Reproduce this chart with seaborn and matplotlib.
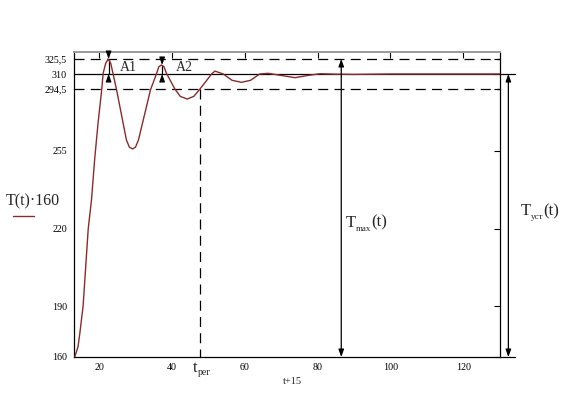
#!/usr/bin/env python3
"""
plot.py - transient response T(t)*160 with overshoot / settling markers
Saves out.png (563x393 px).
"""

import numpy as np
import pandas as pd
import matplotlib
matplotlib.use('Agg')
import matplotlib.pyplot as plt
import matplotlib.transforms as mtransforms
import seaborn as sns
from matplotlib.lines import Line2D


# ── Data ─────────────────────────────────────────────────────────────────────
t_shift = [13.3, 14.2, 14.7, 15.6, 17.0, 17.9, 18.8, 19.7, 20.7, 21.1, 21.8,
           22.5, 23.2, 23.8, 24.8, 26.6, 27.5, 28.3, 29.2, 30.0, 30.8, 31.9,
           34.1, 35.8, 36.4, 37.1, 37.8, 38.5, 40.8, 42.3, 44.2, 46.0, 47.7,
           50.9, 51.8, 54.1, 56.5, 59.1, 61.6, 64.1, 66.4, 70.0, 73.8, 77.3,
           80.7, 85.0, 90.0, 100.0, 110.0, 120.0, 130.0]
temp = [160.0, 166.0, 173.9, 190.0, 220.0, 233.0, 251.7, 272.6, 293.9, 310.7, 321.0,
        325.5, 321.0, 310.7, 293.9, 272.6, 262.0, 257.5, 256.3, 257.5, 262.0, 272.6,
        293.9, 310.7, 317.5, 319.3, 317.5, 310.7, 294.5, 289.8, 288.1, 289.8, 294.5,
        310.0, 313.0, 310.0, 303.5, 301.4, 303.5, 310.0, 310.7, 308.5, 306.2, 308.5,
        310.3, 309.8, 309.6, 310.0, 310.0, 310.0, 310.0]

x_ticks = [20, 40, 60, 80, 100, 120]
y_ticks = [160, 190, 220, 255, 294.5, 310, 325.5]
y_tick_labels = ['160', '190', '220', '255', '294,5', '310', '325,5']

T_START = 160
T_MAX = 325.5       # first peak
T_UST = 310         # steady state
T_BAND = 294.5      # lower edge of the settling band
T_PEAK2 = 319.3     # second peak
t_reg = 47.7        # settling time
t_peak1 = 22.6
t_peak2 = 37.3

# The y axis of the original is not linear: height (px above the bottom edge)
# at which each tick value sits
Y_AXIS_VALUES = [160, 190, 220, 255, 294.5, 310, 325.5, 332.7]
Y_AXIS_PX = [0, 51, 128, 206, 268, 283, 298, 305]

CURVE_COLOR = '#8b2a2a'
DPI = 100


def fwd(v):
    return np.interp(v, Y_AXIS_VALUES, Y_AXIS_PX)


def inv(p):
    return np.interp(p, Y_AXIS_PX, Y_AXIS_VALUES)


def arrow(ax, x, y_from, y_to, style='-|>', clip=True):
    ax.annotate('', xy=(x, y_to), xytext=(x, y_from),
                arrowprops=dict(arrowstyle=f'{style},head_length=0.55,head_width=0.2',
                                color='black', lw=0.9, mutation_scale=8,
                                shrinkA=0, shrinkB=0),
                annotation_clip=clip)


def sub_label(fig, x, y, transform, main, sub, tail='', size=12, sub_size=6.5,
              sub_drop=3.0):
    """Write main + small subscript + tail, one piece after another."""
    renderer = fig.canvas.get_renderer()
    dx = 0.0
    for text, fs, dy in [(main, size, 0.0), (sub, sub_size, -sub_drop), (tail, size, 0.0)]:
        if not text:
            continue
        tr = mtransforms.offset_copy(transform, fig=fig, x=dx, y=dy, units='points')
        t = fig.text(x, y, text, fontsize=fs, va='baseline', ha='left', transform=tr)
        dx += t.get_window_extent(renderer).width * 72 / DPI


sns.set_style('white')
plt.rcParams['font.family'] = ['Liberation Serif', 'DejaVu Serif']

fig = plt.figure(figsize=(5.63, 3.93), dpi=DPI)
ax = fig.add_axes([74 / 563, 1 - 357 / 393, 426 / 563, 305 / 393])

df = pd.DataFrame({'t': t_shift, 'T': temp})
sns.lineplot(data=df, x='t', y='T', ax=ax, color=CURVE_COLOR, lw=1.0,
             legend=False, zorder=3)

ax.set_yscale('function', functions=(fwd, inv))
ax.set_xlim(13.1, 130.1)
ax.set_ylim(160, 332.7)
ax.set_xticks(x_ticks, [str(v) for v in x_ticks])
ax.set_yticks(y_ticks, y_tick_labels)
ax.minorticks_off()
ax.set_xlabel('')
ax.set_ylabel('')
ax.tick_params(direction='in', top=True, right=True, length=4, width=0.8,
               labelsize=7.2, colors='black')
ax.tick_params(axis='y', pad=5)
ax.tick_params(axis='x', pad=4)

for side in ['left', 'bottom', 'right']:
    ax.spines[side].set_color('black')
    ax.spines[side].set_linewidth(0.9)
ax.spines['top'].set_color('#9a9a9a')
ax.spines['top'].set_linewidth(1.4)

# reference levels
dash = (0, (8, 5))
ax.plot([13.1, 130.1], [T_MAX, T_MAX], color='black', lw=0.9, ls=dash)
ax.plot([13.1, 130.1], [T_BAND, T_BAND], color='black', lw=0.9, ls=dash)
ax.plot([13.1, 134.3], [T_UST, T_UST], color='black', lw=0.9, clip_on=False)
ax.plot([130.1, 134.3], [T_START, T_START], color='black', lw=0.9, clip_on=False)
ax.plot([t_reg, t_reg], [T_BAND, T_START], color='black', lw=0.9, ls=dash)

# A1, A2 overshoot markers
for x, top, label, lx in [(t_peak1, T_MAX, 'A1', 25.7), (t_peak2, T_PEAK2, 'A2', 41.1)]:
    ax.plot([x, x], [top, T_UST], color='black', lw=0.9)
    arrow(ax, x, top + 4.5, top)
    arrow(ax, x, 303.8, T_UST)
    ax.text(lx, 316.5, label, fontsize=10, va='center', ha='left')

# T_max and T_ust spans
arrow(ax, 86.5, T_START, T_MAX, style='<|-|>')
arrow(ax, 132.4, T_START, T_UST, style='<|-|>', clip=False)
sub_label(fig, 87.6, 221, ax.transData, 'T', 'max', '(t)')
sub_label(fig, 135.7, 226.3, ax.transData, 'T', 'уст', '(t)')

# labels outside the axes
fig.text(6 / 563, 1 - 205 / 393, 'T(t)·160', fontsize=11.5, va='baseline', ha='left')
fig.add_artist(Line2D([13 / 563, 34 / 563], [1 - 216 / 393, 1 - 216 / 393],
                      color=CURVE_COLOR, lw=1.0))
sub_label(fig, 193 / 563, 1 - 372 / 393, fig.transFigure, 't', 'рег', sub_size=7,
          sub_drop=2.0)
fig.text(292 / 563, 1 - 381 / 393, 't+15', fontsize=7.5, va='center', ha='center')

fig.savefig('out.png', dpi=DPI)
